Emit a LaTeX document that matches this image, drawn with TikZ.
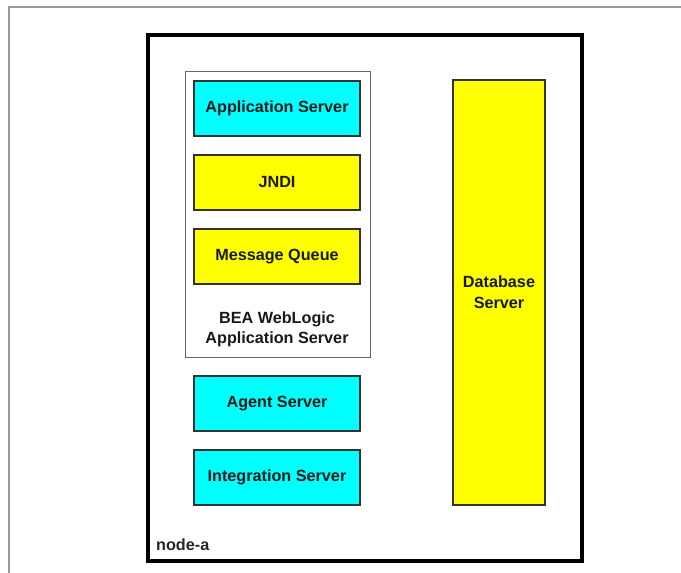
\documentclass[tikz,border=0pt]{standalone}
\usepackage{fontspec}
\setmainfont{Liberation Sans}
\definecolor{boxcyan}{RGB}{0,255,255}
\definecolor{boxyellow}{RGB}{255,255,0}
\begin{document}
\begin{tikzpicture}[x=1pt,y=-1pt,
  font=\fontsize{16.2}{18}\selectfont\bfseries,
  comp/.style={draw=black!80, line width=1.3pt, inner sep=0pt, text=black!90},
  cyanbox/.style={comp, fill=boxcyan},
  yelbox/.style={comp, fill=boxyellow}]
\useasboundingbox (0,0) rectangle (681,573);
% outer page frame
\draw[gray!80, line width=1.5pt] (9,573) -- (9,7) -- (681,7);
% node frame
\draw[black, line width=4pt] (148,35) rectangle (582,561);
\node[anchor=base west, inner sep=0pt, text=black!85] (na) at (156,550) {node-a};
% weblogic container
\node[draw=black!60, line width=1pt, minimum width=185, minimum height=286, inner sep=0pt] (wl) at (277.5,214) {};
\node[align=center, text=black!90, font=\fontsize{16.2}{20}\selectfont\bfseries] (wllabel) at (277,329) {BEA WebLogic\\Application Server};
\node[cyanbox, minimum width=166, minimum height=55] (app) at (277,108.5) {Application Server};
\node[yelbox, minimum width=166, minimum height=55] (jndi) at (277,182.5) {JNDI};
\node[yelbox, minimum width=166, minimum height=55] (mq) at (277,256.5) {Message Queue};
\node[cyanbox, minimum width=166, minimum height=55] (agent) at (277,403.5) {Agent Server};
\node[cyanbox, minimum width=166, minimum height=55] (integ) at (277,477.5) {Integration Server};
\node[yelbox, minimum width=92, minimum height=425, align=center, font=\fontsize{16.2}{21}\selectfont\bfseries] (db) at (499,292.5) {Database\\Server};
\end{tikzpicture}
\end{document}
